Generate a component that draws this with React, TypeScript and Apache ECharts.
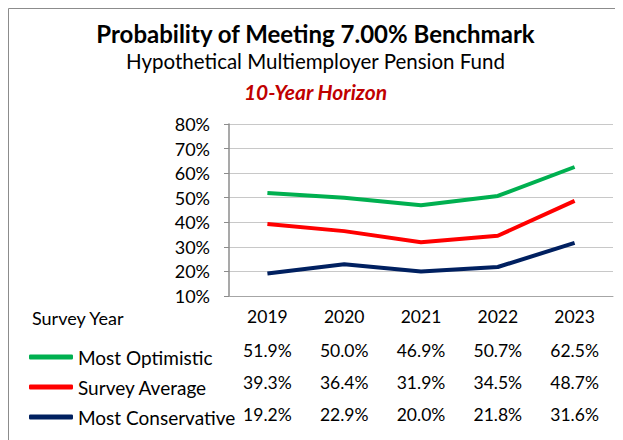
import React, { useEffect, useRef } from "react";
import * as echarts from "echarts";

const years = ["2019", "2020", "2021", "2022", "2023"];
const mostOptimistic = [51.9, 50.0, 46.9, 50.7, 62.5];
const surveyAverage = [39.3, 36.4, 31.9, 34.5, 48.7];
const mostConservative = [19.2, 22.9, 20.0, 21.8, 31.6];
const seriesNames = ["Most Optimistic", "Survey Average", "Most Conservative"];
const seriesColors = ["#00B050", "#FF0000", "#002060"];

const FONT = "Lato, 'Open Sans', sans-serif";

export default function App() {
  const ref = useRef<HTMLDivElement>(null);
  useEffect(() => {
    if (!ref.current) return;
    const chart = echarts.init(ref.current, null, { renderer: "svg" });
    const allData = [mostOptimistic, surveyAverage, mostConservative];
    chart.setOption({
      animation: false,
      textStyle: { fontFamily: FONT },
      title: [
        {
          text: "Probability of Meeting 7.00% Benchmark",
          left: "center",
          top: 13,
          padding: 0,
          textStyle: { fontFamily: FONT, fontSize: 24, fontWeight: "bold", color: "#000" },
        },
        {
          text: "Hypothetical Multiemployer Pension Fund",
          left: "center",
          top: 42,
          padding: 0,
          textStyle: { fontFamily: FONT, fontSize: 20.5, fontWeight: "normal", color: "#000" },
        },
        {
          text: "10-Year Horizon",
          left: "center",
          top: 73,
          padding: 0,
          textStyle: { fontFamily: FONT, fontSize: 21, fontWeight: "bold", fontStyle: "italic", color: "#C00000" },
        },
      ],
      graphic: [
        {
          type: "rect",
          shape: { x: 0.5, y: 0.5, width: 800, height: 800 },
          style: { fill: "none", stroke: "#8c8c8c", lineWidth: 1 },
          silent: true,
        },
        {
          type: "text",
          left: 24,
          top: 301,
          style: { text: "Survey Year", fontSize: 18, fontFamily: FONT, fill: "#000" },
        },
      ],
      legend: {
        orient: "vertical",
        left: 21,
        top: 334,
        itemGap: 0,
        itemWidth: 44,
        itemHeight: 5,
        icon: "roundRect",
        padding: 0,
        selectedMode: false,
        textStyle: { fontSize: 19, fontFamily: FONT, color: "#000", lineHeight: 30 },
        data: seriesNames,
      },
      grid: { left: 221, right: 10, top: 116, bottom: 144, containLabel: false },
      xAxis: {
        type: "category",
        data: years,
        boundaryGap: true,
        axisLine: { show: true, lineStyle: { color: "#a6a6a6", width: 1 } },
        axisTick: { show: false },
        axisLabel: {
          margin: 2,
          interval: 0,
          verticalAlign: "top",
          formatter: (v: string, i: number) =>
            `{y|${v}}\n` + allData.map((d) => `{v|${d[i].toFixed(1)}%}`).join("\n"),
          rich: {
            y: { fontSize: 17.5, fontFamily: FONT, color: "#000", lineHeight: 36 },
            v: { fontSize: 17.5, fontFamily: FONT, color: "#000", lineHeight: 32 },
          },
        },
      },
      yAxis: {
        type: "value",
        min: 10,
        max: 80,
        interval: 10,
        axisLine: { show: true, lineStyle: { color: "#8c8c8c", width: 1.5 } },
        axisTick: { show: true, length: 5, lineStyle: { color: "#8c8c8c" } },
        axisLabel: { formatter: "{value}%", fontSize: 18, fontFamily: FONT, color: "#000", margin: 19 },
        splitLine: { show: true, lineStyle: { color: "#c8c8c8", width: 1 } },
      },
      series: allData.map((d, i) => ({
        name: seriesNames[i],
        type: "line",
        data: d,
        symbol: "none",
        lineStyle: { color: seriesColors[i], width: 4 },
        itemStyle: { color: seriesColors[i] },
      })),
    });
    return () => chart.dispose();
  }, []);
  return <div ref={ref} style={{ width: 615, height: 432 }} />;
}
